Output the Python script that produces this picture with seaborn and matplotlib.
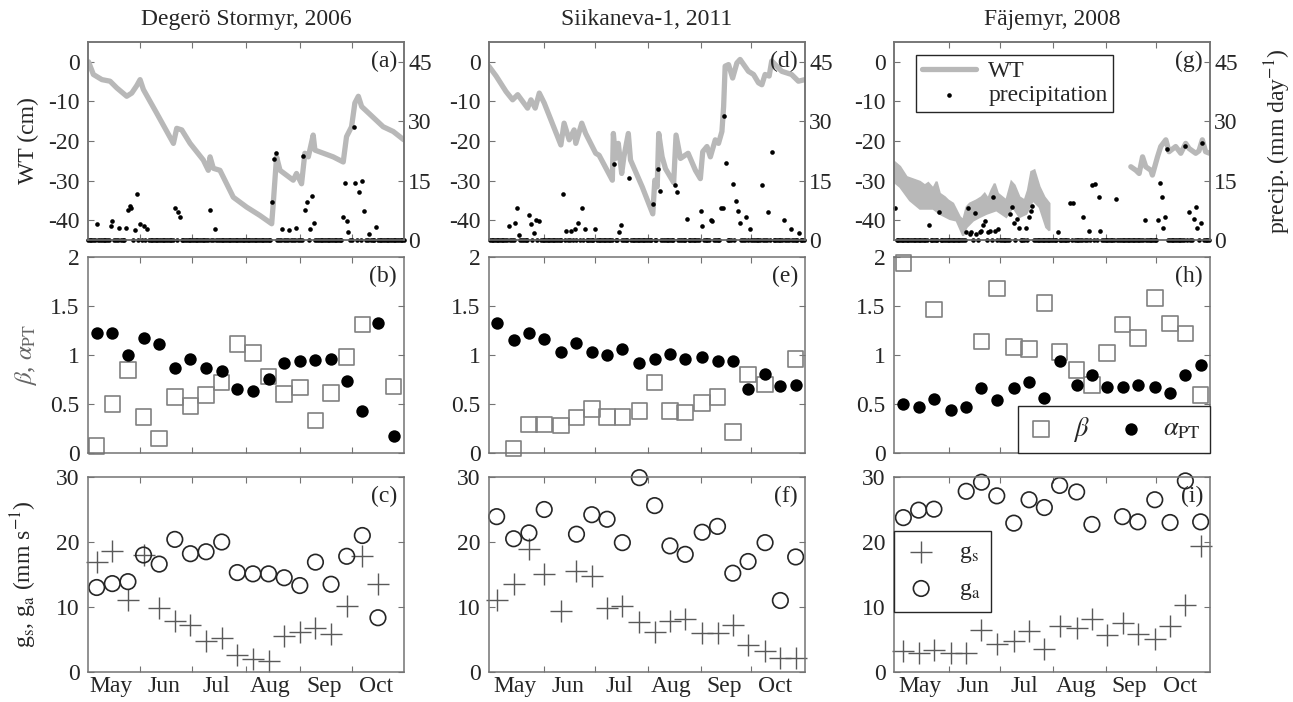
import numpy as np
import matplotlib
matplotlib.use("Agg")
import matplotlib.pyplot as plt
import seaborn as sns

# ---- data (x = day of year) ----
# water table depth, vertices
deg_wt_doy = [122.3, 125.1, 130, 134.7, 138.6, 144.3, 147.2, 150.1, 152, 153.9,
              161.6, 171.2, 173.1, 176, 180.8, 188.4, 191.3, 192.3, 194.2, 198,
              205.7, 213.4, 221, 227.8, 228.7, 230.6, 232.6, 240.2, 242.1, 245,
              246.9, 248.9, 251.7, 252.7, 263.2, 269, 270.9, 273.8, 275.7, 277.7,
              279.6, 292, 297.8, 303.9]
deg_wt = [0, -3.2, -4.5, -4.9, -6.6, -8.7, -7.9, -6.0, -4.5, -7.0,
          -13, -20.6, -16.8, -17.2, -20.6, -24.8, -27.4, -24, -26.9, -27.4,
          -34.2, -36.7, -38.8, -40.9, -35.8, -24, -27.4, -29.9, -28.2, -30.8,
          -23.1, -24, -18.5, -22.3, -24, -25.3, -18.9, -16.4, -10.4, -8.7,
          -11.3, -16.4, -17.6, -19.7]

sii_wt_doy = [119.4, 123.7, 129.5, 133.4, 136.4, 139.3, 142.2, 144.2, 146.7, 149.1,
              152, 161.8, 163.7, 166.7, 169.6, 170.6, 174.1, 176.4, 182.3, 184.3,
              192.1, 192.7, 194, 195.6, 197.6, 198.9, 201.5, 202.8, 209.7, 215.9,
              217.1, 218.5, 219.4, 221.4, 223.4, 228.2, 229.6, 232.2, 236.7, 241,
              243.9, 245.3, 247.8, 249.8, 252.7, 254.6, 256.6, 257.6, 258.5, 260.5,
              262.9, 265.4, 267.3, 272.2, 275.2, 278.1, 280.1, 282, 284.4, 285.9,
              291.8, 297.6, 301.6, 305.5]
sii_wt = [-1.1, -3.6, -7.5, -9.6, -8.3, -10, -11.7, -9.6, -11.7, -7.9,
          -10.4, -21, -15.5, -19.7, -17.2, -20.6, -15.5, -18.1, -23.1, -23.6,
          -29.9, -18.1, -24.4, -20.6, -28.2, -24, -18.1, -24.8, -31.6, -38.4,
          -29.9, -31.6, -18.1, -24, -27, -30.5, -18.5, -24.4, -23.1, -27.4,
          -29.5, -22.7, -21.4, -24, -19.7, -20.6, -17.6, -11.3, -1.1, -0.7,
          -4.1, -0.3, 0.6, -2.4, -3.2, -5.3, -5.8, -3.2, -3.6, 0.2,
          -2.4, -3.2, -4.9, -4.5]

# Fajemyr: noisy early record drawn as a band (upper / lower envelope)
fj_up_doy = [119.5, 123.1, 127, 134.8, 137.7, 139.7, 142.6, 144.6, 146.5, 149.5,
             151.4, 154.3, 156.3, 158.3, 160.2, 162.2, 164.1, 168, 171, 172.9,
             174.9, 176.8, 178.8, 180.7, 185.6, 188.6, 190.5, 193.4, 196.4, 198.3,
             200.3, 202.2, 205.2, 208.1, 211]
fj_up = [-25.2, -26.5, -29.1, -30.3, -31.2, -30.6, -32, -30.3, -33.3, -34.2,
         -35, -35.8, -37.5, -39.2, -40, -36.7, -35.8, -35, -34.2, -33.3,
         -34.6, -32.5, -30.8, -33.3, -35, -30.3, -31.2, -34.2, -35, -32.5,
         -27.8, -27.4, -31.6, -34.2, -35.8]
fj_low_doy = [119.5, 123.1, 128.9, 134.8, 142.6, 146.5, 152.4, 156.3, 160.2, 162.2,
              166.1, 170, 173.9, 179.8, 185.6, 189.5, 193.4, 197.4, 201.3, 205.2,
              209.1, 211]
fj_low = [-30.3, -31.6, -35, -37.1, -37.1, -38.4, -39.7, -40.1, -43.9, -41.8,
          -40.1, -39.2, -38.4, -37.5, -39.2, -36.7, -39.2, -38.4, -35, -36.7,
          -41.8, -42.6]
fj_wt2_doy = [258.9, 261.9, 263.8, 265.8, 267.7, 270.7, 271.6, 274.6, 276.5, 279.5,
              281.4, 285.3, 288.3, 291.2, 293.2, 297.1, 299, 301, 302.9, 305.3]
fj_wt2 = [-26.5, -27.4, -28.2, -24, -26.5, -27.4, -28.6, -24, -21.4, -19.7,
          -22.7, -21.4, -23.1, -20.6, -21.9, -23.1, -22.5, -19.7, -22.7, -23.1]

# daily precipitation: rainy days (all other days of the record are 0 mm)
deg_rec = (122, 304)
deg_rain_day = [127, 135, 136, 140, 144, 145, 146, 147, 149, 150, 152, 154, 156,
                172, 174, 175, 192, 195, 228, 229, 230, 234, 238, 242, 246, 247,
                248, 250, 251, 252, 269, 270, 271, 272, 275, 276, 278, 280, 281,
                284, 288]
deg_rain_mm = [4.0, 3.6, 4.7, 3.1, 3.1, 7.6, 8.6, 8.2, 2.5, 11.6, 4.0, 3.6, 2.9,
               8.1, 7.0, 5.7, 7.6, 2.7, 9.5, 20.5, 22.0, 2.7, 2.5, 3.1, 21.1, 7.6,
               9.7, 2.7, 11.0, 4.4, 5.9, 14.3, 4.8, 2.0, 28.6, 14.3, 12.1, 14.8, 7.4,
               1.4, 3.3]
sii_rec = (120, 305)
sii_rain_day = [131, 135, 136, 137, 143, 144, 146, 147, 149, 163, 165, 168, 170,
                172, 174, 176, 182, 193, 196, 197, 202, 216, 219, 220, 229, 230,
                236, 244, 245, 250, 251, 256, 257, 258, 259, 263, 265, 266, 267,
                271, 273, 280, 284, 286, 293, 297, 302]
sii_rain_mm = [3.6, 4.2, 8.0, 1.2, 6.3, 4.0, 1.7, 5.0, 4.8, 11.6, 2.3, 2.3, 2.7,
               4.2, 8.2, 2.7, 2.9, 19.1, 2.0, 3.8, 15.6, 9.1, 18.0, 12.5, 13.9, 12.1,
               5.3, 7.2, 3.6, 5.1, 4.8, 8.1, 8.2, 31.2, 19.5, 14.2, 9.8, 7.4, 4.2,
               5.9, 2.7, 13.8, 7.0, 22.1, 5.1, 2.7, 1.7]
fj_rec = (120, 305)
fj_rain_day = [120, 140, 146, 162, 163, 164, 165, 167, 168, 170, 171, 172, 173,
               175, 176, 178, 179, 181, 188, 189, 190, 192, 193, 197, 199, 200,
               201, 216, 223, 225, 231, 234, 236, 238, 240, 241, 250, 267, 275,
               276, 277, 278, 279, 280, 291, 293, 296, 297, 298, 300, 301]
fj_rain_mm = [8.1, 3.7, 7.0, 2.0, 8.2, 1.4, 2.0, 6.8, 1.4, 2.0, 2.3, 3.7, 4.8,
              2.0, 2.3, 10.8, 2.3, 2.9, 6.5, 8.4, 4.4, 5.3, 3.1, 3.1, 5.7, 7.2,
              8.7, 2.0, 9.3, 9.3, 5.9, 2.3, 13.9, 14.2, 10.8, 2.3, 10.4, 5.1, 5.1,
              14.4, 10.8, 3.1, 5.7, 22.9, 23.8, 7.0, 5.3, 8.4, 3.1, 4.4, 24.5]

# binned estimates (20 periods per site)
deg_doy = [127, 136, 145, 154, 163, 172, 181, 190, 199, 208,
           217, 226, 235, 244, 253, 262, 271, 280, 289, 298]
deg_beta = [0.07, 0.50, 0.845, 0.37, 0.15, 0.57, 0.48, 0.59, 0.72, 1.11,
            1.02, 0.78, 0.60, 0.67, 0.33, 0.61, 0.98, 1.31, np.nan, 0.68]
deg_alpha = [1.22, 1.22, 1.005, 1.175, 1.11, 0.87, 0.96, 0.87, 0.84, 0.65,
             0.63, 0.76, 0.92, 0.94, 0.95, 0.96, 0.73, 0.43, 1.325, 0.17]
deg_gs = [17.0, 18.6, 11.1, 18.0, 9.8, 7.9, 7.2, 4.8, 5.3, 2.6,
          2.0, 1.75, 5.5, 6.2, 6.8, 5.8, 10.2, 17.9, 13.5, np.nan]
deg_ga = [13.0, 13.6, 13.9, 18.0, 16.6, 20.4, 18.2, 18.5, 20.0, 15.3,
          15.1, 15.1, 14.5, 13.3, 16.9, 13.5, 17.8, 21.0, 8.35, np.nan]

sii_doy = [124, 134, 143, 152, 162, 171, 180, 189, 198, 208,
           217, 226, 235, 245, 254, 263, 272, 282, 291, 300]
sii_beta = [np.nan, 0.045, 0.29, 0.29, 0.28, 0.36, 0.45, 0.37, 0.37, 0.43,
            0.72, 0.43, 0.415, 0.51, 0.57, 0.215, 0.80, 0.70, np.nan, 0.96]
sii_alpha = [1.33, 1.155, 1.22, 1.16, 1.03, 1.125, 1.03, 1.005, 1.065, 0.92,
             0.96, 1.015, 0.96, 0.98, 0.94, 0.935, 0.655, 0.81, 0.68, 0.69]
sii_gs = [11.05, 13.6, 19.0, 15.1, 9.4, 15.6, 14.8, 9.9, 10.2, 7.7,
          6.1, 7.9, 8.2, 6.0, 6.0, 7.2, 4.2, 3.3, 2.1, 2.1]
sii_ga = [23.9, 20.5, 21.4, 25.0, np.nan, 21.2, 24.2, 23.5, 19.9, 29.9,
          25.6, 19.4, 18.1, 21.5, 22.4, 15.2, 17.0, 19.9, 11.0, 17.7]

fj_doy = [125, 134, 143, 153, 162, 171, 180, 190, 199, 208,
          217, 227, 236, 245, 254, 263, 273, 282, 291, 300]
fj_beta = [1.94, np.nan, 1.465, np.nan, np.nan, 1.14, 1.68, 1.08, 1.06, 1.53,
           1.03, 0.845, 0.695, 1.02, 1.31, 1.175, 1.58, 1.32, 1.22, 0.59]
fj_alpha = [0.50, 0.465, 0.555, 0.44, 0.47, 0.66, 0.54, 0.66, 0.725, 0.56,
            0.935, 0.695, 0.80, 0.67, 0.67, 0.69, 0.67, 0.61, 0.80, 0.90]
fj_gs = [3.2, 2.85, 3.45, 2.85, 2.85, 6.5, 4.3, 4.7, 6.35, 3.55,
         7.15, 6.75, 8.1, 5.7, 7.6, 5.8, 5.1, 7.1, 10.3, 19.4]
fj_ga = [23.75, 24.9, 25.05, np.nan, 27.8, 29.2, 27.1, 22.9, 26.5, 25.3,
         28.7, 27.7, 22.7, np.nan, 23.9, 23.1, 26.5, 23.0, 29.4, 23.1]

site_titles = ["Degerö Stormyr, 2006", "Siikaneva-1, 2011", "Fäjemyr, 2008"]
month_starts = [152, 182, 213, 244, 274]
month_mid = [135, 166, 196, 227, 258, 288]
month_names = ["May", "Jun", "Jul", "Aug", "Sep", "Oct"]
panel_letters = [["(a)", "(b)", "(c)"], ["(d)", "(e)", "(f)"], ["(g)", "(h)", "(i)"]]

# ---- style ----
sns.set_style("ticks")
plt.rcParams["font.family"] = ["Liberation Serif", "DejaVu Serif"]
plt.rcParams["mathtext.fontset"] = "stix"
plt.rcParams["axes.unicode_minus"] = False
plt.rcParams["font.size"] = 17

SPINE = "0.45"
WT_GREY = "0.72"
TICK_FS = 17

fig = plt.figure(figsize=(12.93, 7.02), dpi=100)
W, H = 1293.0, 702.0
col_left = [88, 489, 894]
row_span = [(42, 240), (257, 453), (477, 672)]


def make_ax(col, row):
    top, bot = row_span[row]
    return fig.add_axes([col_left[col] / W, 1 - bot / H, 316 / W, (bot - top) / H])


def style_x(ax, xlim, labels):
    ax.set_xlim(*xlim)
    ax.set_xticks(month_starts)
    ax.set_xticks(month_mid, minor=True)
    if labels:
        ax.set_xticklabels(month_names, minor=True)
    ax.tick_params(axis="x", which="both", labelbottom=labels)
    ax.tick_params(axis="x", which="major", labelbottom=False)
    ax.tick_params(axis="x", which="minor", length=0, pad=3, labelsize=TICK_FS)
    ax.tick_params(axis="x", which="major", direction="in", length=4,
                   color=SPINE, top=True, bottom=True)
    for sp in ax.spines.values():
        sp.set_color(SPINE)
        sp.set_linewidth(1.1)


def letter(ax, txt):
    ax.text(0.978, 0.9, txt, transform=ax.transAxes, ha="right", va="center",
            fontsize=17, zorder=10)


def daily_precip(rec, rain_day, rain_mm):
    days = np.arange(rec[0], rec[1] + 1)
    mm = np.zeros(days.size)
    for d, v in zip(rain_day, rain_mm):
        mm[d - rec[0]] = v
    return days, mm


sites = [
    dict(xlim=(122, 304), rec=deg_rec, rd=deg_rain_day, rm=deg_rain_mm,
         doy=deg_doy, beta=deg_beta, alpha=deg_alpha, gs=deg_gs, ga=deg_ga),
    dict(xlim=(119.5, 305.5), rec=sii_rec, rd=sii_rain_day, rm=sii_rain_mm,
         doy=sii_doy, beta=sii_beta, alpha=sii_alpha, gs=sii_gs, ga=sii_ga),
    dict(xlim=(119.5, 305.5), rec=fj_rec, rd=fj_rain_day, rm=fj_rain_mm,
         doy=fj_doy, beta=fj_beta, alpha=fj_alpha, gs=fj_gs, ga=fj_ga),
]

for c, s in enumerate(sites):
    # --- WT and precipitation ---
    ax = make_ax(c, 0)
    if c == 0:
        sns.lineplot(x=deg_wt_doy, y=deg_wt, ax=ax, color=WT_GREY, linewidth=3.8,
                     estimator=None, sort=False, legend=False)
    elif c == 1:
        sns.lineplot(x=sii_wt_doy, y=sii_wt, ax=ax, color=WT_GREY, linewidth=3.8,
                     estimator=None, sort=False, legend=False)
    else:
        ax.fill(np.r_[fj_up_doy, fj_low_doy[::-1]], np.r_[fj_up, fj_low[::-1]],
                color=WT_GREY, lw=1.5)
        sns.lineplot(x=fj_wt2_doy, y=fj_wt2, ax=ax, color=WT_GREY, linewidth=3.8,
                     estimator=None, sort=False, legend=False, label="WT")
    ax.set_ylim(-45, 5)
    ax.set_yticks([-40, -30, -20, -10, 0])
    ax.tick_params(axis="y", direction="in", length=4, color=SPINE, pad=6,
                   labelsize=TICK_FS, right=False)
    style_x(ax, s["xlim"], False)
    ax.set_title(site_titles[c], fontsize=17, pad=12)

    ax2 = ax.twinx()
    days, mm = daily_precip(s["rec"], s["rd"], s["rm"])
    sns.scatterplot(x=days, y=mm, ax=ax2, color="black", s=11, linewidth=0,
                    clip_on=False, legend=False, label="precipitation")
    ax2.set_ylim(0, 50)
    ax2.set_yticks([0, 15, 30, 45])
    ax2.tick_params(axis="y", direction="in", length=4, color=SPINE, pad=3,
                    labelsize=TICK_FS)
    ax2.set_xlim(*s["xlim"])
    for sp in ax2.spines.values():
        sp.set_color(SPINE)
        sp.set_linewidth(1.1)
    letter(ax2, panel_letters[c][0])
    if c == 0:
        ax.set_ylabel("WT (cm)", fontsize=17)
        ax.yaxis.set_label_coords(-0.155, 0.5)
    if c == 2:
        ax2.set_ylabel("precip. (mm day$^{-1}$)", fontsize=17)
        ax2.yaxis.set_label_coords(1.165, 0.5)
        h_wt = ax.get_lines()[0]
        h_pr = ax2.collections[0]
        leg = ax2.legend([h_wt, h_pr], ["WT", "precipitation"], loc="upper left",
                         bbox_to_anchor=(0.07, 0.935), borderaxespad=0, fontsize=17,
                         handlelength=2.3, fancybox=False, framealpha=1,
                         edgecolor="0.15", borderpad=0.25, labelspacing=0.1,
                         handletextpad=0.5)
        leg.get_frame().set_linewidth(1.0)

    # --- beta and alpha_PT ---
    ax = make_ax(c, 1)
    sns.scatterplot(x=s["doy"], y=s["beta"], ax=ax, marker="s", s=125,
                    facecolor="none", edgecolor="0.5", linewidth=1.2,
                    clip_on=False, legend=False, label=r"$\beta$")
    sns.scatterplot(x=s["doy"], y=s["alpha"], ax=ax, marker="o", s=80,
                    color="black", edgecolor="black", linewidth=0,
                    clip_on=False, legend=False, label=r"$\alpha_{\rm PT}$")
    ax.set_ylim(0, 2)
    ax.set_yticks([0, 0.5, 1, 1.5, 2], labels=["0", "0.5", "1", "1.5", "2"])
    ax.tick_params(axis="y", direction="in", length=4, color=SPINE, pad=6,
                   labelsize=TICK_FS, right=True)
    style_x(ax, s["xlim"], False)
    letter(ax, panel_letters[c][1])
    if c == 0:
        ax.set_ylabel(r"$\beta$, $\alpha_{\rm PT}$", fontsize=18, color="0.4")
        ax.yaxis.set_label_coords(-0.155, 0.5)
    if c == 2:
        leg = ax.legend(loc="lower right", bbox_to_anchor=(1, 0), borderaxespad=0,
                        ncol=2, fontsize=19, fancybox=False, framealpha=1,
                        edgecolor="0.15", handletextpad=0.7, columnspacing=1.1,
                        borderpad=0.35, handlelength=1.0)
        leg.get_frame().set_linewidth(1.0)

    # --- conductances ---
    ax = make_ax(c, 2)
    sns.scatterplot(x=s["doy"], y=s["gs"], ax=ax, marker="+", s=230,
                    color="0.35", linewidth=1.0, clip_on=False, legend=False,
                    label="g$_{\\rm s}$")
    sns.scatterplot(x=s["doy"], y=s["ga"], ax=ax, marker="o", s=125,
                    facecolor="none", edgecolor="0.15", linewidth=1.2,
                    clip_on=False, legend=False, label="g$_{\\rm a}$")
    ax.set_ylim(0, 30)
    ax.set_yticks([0, 10, 20, 30])
    ax.tick_params(axis="y", direction="in", length=4, color=SPINE, pad=6,
                   labelsize=TICK_FS, right=True)
    style_x(ax, s["xlim"], True)
    letter(ax, panel_letters[c][2])
    if c == 0:
        ax.set_ylabel("g$_{\\rm s}$, g$_{\\rm a}$ (mm s$^{-1}$)", fontsize=17)
        ax.yaxis.set_label_coords(-0.155, 0.5)
    if c == 2:
        leg = ax.legend(loc="upper left", bbox_to_anchor=(0, 0.723), borderaxespad=0,
                        fontsize=17, fancybox=False, framealpha=1, edgecolor="0.15",
                        handletextpad=0.9, labelspacing=0.55, borderpad=0.45,
                        handlelength=1.4)
        leg.get_frame().set_linewidth(1.0)

fig.savefig("out.png", dpi=100)
